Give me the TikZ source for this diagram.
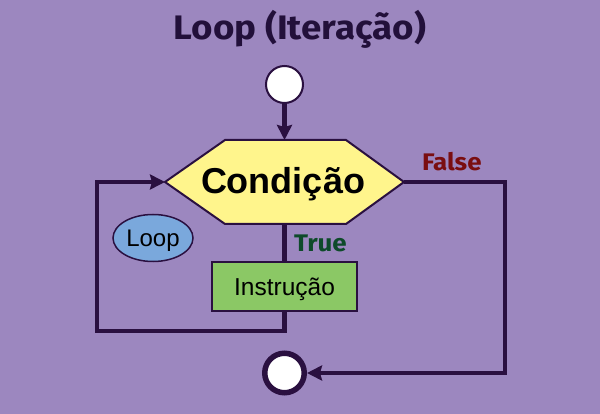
\documentclass[tikz,border=0pt]{standalone}
\usepackage{fontspec}
\setmainfont{Liberation Sans}
\newfontfamily\labfont[FakeStretch=1.08]{Fira Sans}
\usetikzlibrary{arrows.meta,shapes.geometric}
\definecolor{bg}{HTML}{9C87BF}
\definecolor{ln}{HTML}{2A1040}
\definecolor{yel}{HTML}{FFF58C}
\definecolor{grn}{HTML}{8BC865}
\definecolor{blu}{HTML}{7AA8DC}
\definecolor{ttl}{HTML}{22103A}
\definecolor{tru}{HTML}{0E4A2A}
\definecolor{fal}{HTML}{7A0E10}
\tikzset{
  conn/.style={draw=ln, line width=4.5pt},
  tip/.style={-{Stealth[length=15pt,width=15pt,inset=2pt]}},
  shapeline/.style={draw=ln, line width=2pt},
}
\begin{document}
\begin{tikzpicture}[x=1pt,y=-1pt]
\fill[bg] (0,0) rectangle (600,414);
\useasboundingbox (0,0) rectangle (600,414);

\node[anchor=base, text=ttl, font=\labfont\bfseries\fontsize{34}{36}\selectfont] (title) at (300,40) {Loop (Iteração)};

\node[circle, shapeline, fill=white, minimum size=37pt, inner sep=0pt] (start) at (284.5,84.5) {};

\coordinate (condL) at (165,182);
\coordinate (condR) at (404,182);
\coordinate (condT) at (284.5,140);
\coordinate (condB) at (284.5,224);
\draw[shapeline, fill=yel, line join=miter] (condL) -- (225,140) -- (346,140) -- (condR) -- (346,224) -- (225,224) -- cycle;
\node[anchor=base, font=\bfseries\fontsize{36}{40}\selectfont] (cond) at (283,194) {Condição};

\node[draw=ln, line width=1.5pt, fill=grn, minimum width=145pt, minimum height=49pt, inner sep=0pt, text height=17.5pt, text depth=0pt, font=\fontsize{24.5}{28}\selectfont] (instr) at (284.5,286.5) {Instrução};

\node[ellipse, draw=ln, line width=1.5pt, fill=blu, minimum width=80pt, minimum height=47pt, inner sep=0pt, text height=17pt, text depth=0pt, font=\fontsize{24}{28}\selectfont] (loop) at (153,238) {Loop};

\node[circle, draw=ln, line width=5.5pt, fill=white, minimum size=39.5pt, inner sep=0pt] (endc) at (284.5,373) {};

\draw[conn, tip] (start) -- (condT);
\draw[conn] (condB) -- (instr.north);
\draw[conn, tip] (instr.south) -- ++(0,19) -| (97,182) -- (condL);
\draw[conn, tip] (condR) -- (505,182) |- (endc.east);

\node[anchor=base west, text=tru, font=\labfont\bfseries\fontsize{24}{28}\selectfont] (truelab) at (290.5,252) {True};
\node[anchor=base west, text=fal, font=\labfont\bfseries\fontsize{24}{28}\selectfont] (falselab) at (418.5,171) {False};
\end{tikzpicture}
\end{document}
